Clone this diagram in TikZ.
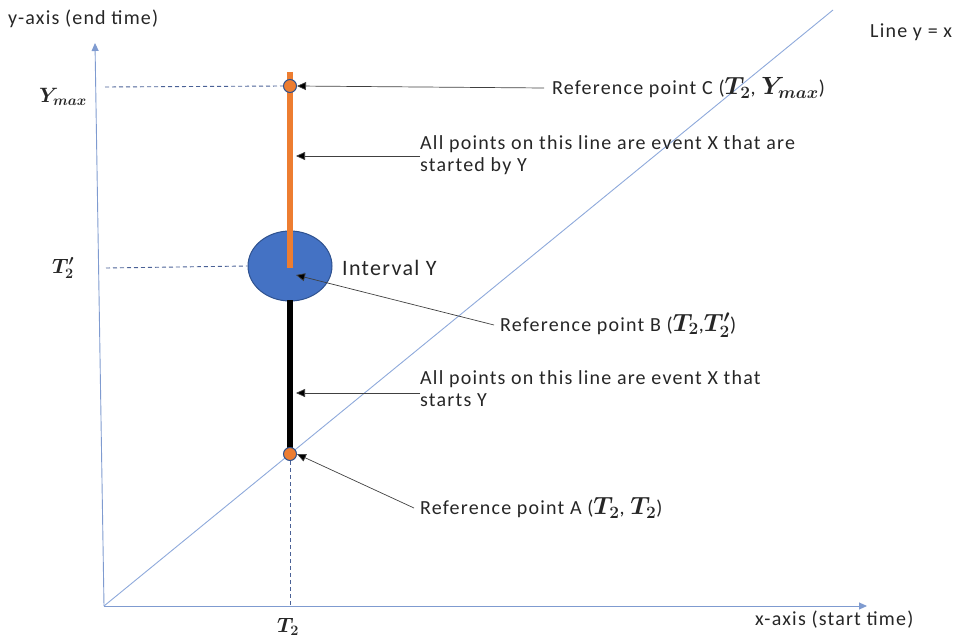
\documentclass[tikz,border=0pt]{standalone}
\usepackage{amsmath,bm}
\usepackage{fontspec}
\setmainfont{Carlito}[LetterSpace=6]
\usetikzlibrary{arrows.meta,shapes.geometric}
\definecolor{axisblue}{HTML}{7F9BD0}
\definecolor{diagblue}{HTML}{8EA9DB}
\definecolor{dashblue}{HTML}{4A6196}
\definecolor{ivblue}{HTML}{4472C4}
\definecolor{ivedge}{HTML}{2F528F}
\definecolor{orng}{HTML}{ED7D31}
\definecolor{arrowgray}{HTML}{404040}
\newcommand{\mth}[1]{{\fontsize{23}{22}\selectfont$\bm{#1}$}}
\begin{document}
\begin{tikzpicture}[x=1pt,y=-1pt,
  lbl/.style={font=\fontsize{20}{22}\selectfont, text=black!85, inner sep=0pt},
  mlbl/.style={font=\fontsize{22}{22}\selectfont, text=black!85, inner sep=0pt},
  axis/.style={draw=axisblue, line width=0.9pt, -{Triangle[length=8pt,width=7pt]}},
  guide/.style={draw=dashblue, line width=0.9pt, dash pattern=on 4pt off 3pt},
  pointer/.style={draw=arrowgray, line width=0.7pt, -{Triangle[length=9pt,width=8pt,fill=black]}},
  refpt/.style={circle, minimum size=13pt, inner sep=0pt, fill=orng, draw=ivedge, line width=1pt}
]
\useasboundingbox (0,0) rectangle (963,639);
% axes
\coordinate (O) at (104,606);
\coordinate (Ytop) at (95,43);
\coordinate (Xend) at (867,606);
\coordinate (Dend) at (833,10);
\draw[axis] (O) -- (Ytop);
\draw[axis] (O) -- (Xend);
\draw[draw=diagblue, line width=0.9pt] (O) -- (Dend);
\node[lbl, anchor=west] (ylab) at (8,19) {y-axis (end time)};
\node[lbl, anchor=west] (xlab) at (755,620) {x-axis (start time)};
\node[lbl, anchor=west] (dlab) at (870,32) {Line y = x};
% tick labels
\node[mlbl] (ymaxlab) at (63,97) {$\bm{Y_{max}}$};
\node[mlbl] (t2plab) at (63,268) {$\bm{T_2'}$};
\node[mlbl] (t2lab) at (288,627) {$\bm{T_2}$};
% interval Y
\node[ellipse, minimum width=84pt, minimum height=70pt, fill=ivblue, draw=ivedge, line width=1pt, inner sep=0pt] (Y) at (290,266) {};
\coordinate (B) at (290,268);
\draw[line width=6pt, draw=orng] (290,72) -- (B);
\draw[line width=6pt, draw=black] (290,300) -- (290,450);
% reference points
\node[refpt] (C) at (290,86) {};
\node[refpt] (A) at (290,454) {};
% guides
\draw[guide] (105,87) -- (C.west);
\draw[guide] (106,268) -- (Y.west);
\draw[guide] (A.south) -- (290,605);
% labels
\node[lbl, anchor=west] (Clab) at (552,88) {Reference point C (\mth{T_2}, \mth{Y_{max}})};
\node[lbl, anchor=north west, align=left] (uplab) at (420,135) {All points on this line are event X that are\\started by Y};
\node[lbl, anchor=west, font=\fontsize{22}{22}\selectfont] (Ylab) at (342,268) {Interval Y};
\node[lbl, anchor=west] (Blab) at (500,325) {Reference point B (\mth{T_2},\mth{T_2'})};
\node[lbl, anchor=north west, align=left] (lowlab) at (420,370) {All points on this line are event X that\\starts Y};
\node[lbl, anchor=west] (Alab) at (420,508) {Reference point A (\mth{T_2}, \mth{T_2})};
% pointers
\coordinate (upend) at (296,156);
\coordinate (lowend) at (296,393);
\draw[pointer] ([xshift=-8pt]Clab.west) -- (C.east);
\draw[pointer] (uplab.north west |- upend) -- (upend);
\draw[pointer] ([xshift=-6pt]Blab.west) -- (296,275);
\draw[pointer] (lowlab.north west |- lowend) -- (lowend);
\draw[pointer] ([xshift=-6pt]Alab.west) -- (A.east);
\end{tikzpicture}
\end{document}
